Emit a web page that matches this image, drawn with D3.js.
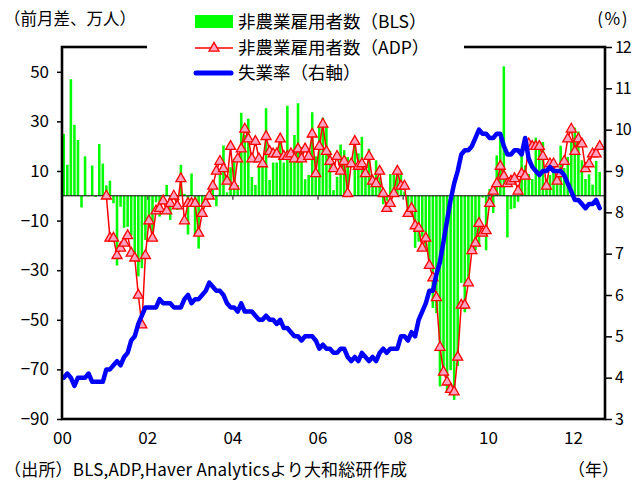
<!DOCTYPE html>
<html><head><meta charset="utf-8">
<script src="https://cdn.jsdelivr.net/npm/d3@7"></script>
<style>
body{margin:0;background:#fff}
svg{display:block}
text{font-family:"Noto Sans CJK JP","Noto Sans",sans-serif;fill:#000}
</style>
</head><body>
<svg id="chart" width="632" height="481"></svg>
<script>
// Monthly series, Jan 2000 – Aug 2012 (change from previous month, 10k persons)
const yearLabels = ["00","02","04","06","08","10","12"];
const leftTicks = [-90,-70,-50,-30,-10,10,30,50];
const rightTicks = [3,4,5,6,7,8,9,10,11,12];

const blsPayrolls = [
  24.9,12.5,47.0,28.6,22.5,-4.7,15.9,-0.2,12.2,-0.5,20.9,13.0,
  4.2,6.1,-3.0,-28.1,-4.4,-12.9,-12.5,-16.0,-24.4,-32.5,-29.2,-17.8,
  -13.2,-14.7,-2.6,-8.4,-1.0,4.4,-9.7,-1.1,-5.7,12.5,0.8,-15.6,
  9.0,-15.8,-21.3,-4.8,-0.7,-0.2,2.4,-4.2,10.3,20.3,1.4,11.5,
  15.0,4.3,33.5,24.6,31.1,7.6,4.4,12.3,15.7,35.3,6.4,13.4,
  13.4,23.9,13.4,36.3,17.5,24.5,37.3,19.6,6.7,8.4,33.7,15.9,
  27.7,31.5,28.0,18.2,2.3,7.7,20.7,18.4,15.7,0.2,21.0,17.1,
  23.8,9.3,19.0,8.0,14.3,7.5,-3.4,-2.0,8.8,8.4,11.4,9.8,
  1.7,-8.4,-7.8,-21.0,-18.5,-16.5,-20.9,-26.6,-45.2,-47.3,-76.9,-69.5,
  -79.1,-70.3,-82.3,-68.6,-35.1,-47.0,-32.9,-21.2,-21.9,-20.0,-0.7,-22.0,
  2.8,-6.9,16.3,24.3,52.2,-16.8,-5.4,-5.0,-2.4,17.1,12.3,8.8,
  6.8,23.5,19.4,21.7,5.4,8.4,9.6,8.5,20.2,11.2,15.7,22.3,
  27.5,25.9,14.3,6.8,8.7,4.5,14.1,9.6
];

// ADP series begins in Jan 2001 (month index 12)
const adpStartIndex = 12;
const adpPayrolls = [
  0,-17,-17,-24,-21,-19,-16,-23,-25,-40,-52,-24,
  -10,-17,-6,-5,-2,-6,-3,0,-4,7,-10,-3,
  -3,-3,-15,-7,-3,0,4,10,14,11,6,20,
  4,15,19,27,23,15,22,15,13,24,18,17,
  17,23,16,16,17,15,19,15,19,16,25,9,
  20,29,18,14,11,16,10,14,1,13,22,12,
  13,9,16,6,5,10,1,-5,-3,1,10,4,
  4,-7,-5,-12,-13,-21,-17,-28,-33,-41,-61,-71,
  -75,-78,-79,-65,-44,-44,-35,-22,-19,-11,-15,-14,
  -3,2,5,12,8,5,6,7,2,9,8,21,
  20,20,20,16,4,13,13,6,9,14,23,27,
  18,23,21,11,13,17,17,20
];

// Unemployment rate, %
const unemploymentRate = [
  4.0,4.1,4.0,3.8,4.0,4.0,4.0,4.1,3.9,3.9,3.9,3.9,
  4.2,4.2,4.3,4.4,4.3,4.5,4.6,4.9,5.0,5.3,5.5,5.7,
  5.7,5.7,5.7,5.9,5.8,5.8,5.8,5.7,5.7,5.7,5.9,6.0,
  5.8,5.9,5.9,6.0,6.1,6.3,6.2,6.1,6.1,6.0,5.8,5.7,
  5.7,5.6,5.8,5.6,5.6,5.6,5.5,5.4,5.4,5.5,5.4,5.4,
  5.3,5.4,5.2,5.2,5.1,5.0,5.0,4.9,5.0,5.0,5.0,4.9,
  4.7,4.8,4.7,4.7,4.6,4.6,4.7,4.7,4.5,4.4,4.5,4.4,
  4.6,4.5,4.4,4.5,4.4,4.6,4.7,4.6,4.7,4.7,4.7,5.0,
  5.0,4.9,5.1,5.0,5.4,5.6,5.8,6.1,6.1,6.5,6.8,7.3,
  7.8,8.3,8.7,9.0,9.4,9.5,9.5,9.6,9.8,10.0,9.9,9.9,
  9.8,9.8,9.9,9.9,9.6,9.4,9.4,9.5,9.5,9.4,9.8,9.3,
  9.1,9.0,8.9,9.0,9.0,9.1,9.0,9.0,9.0,8.9,8.7,8.5,
  8.3,8.3,8.2,8.1,8.2,8.2,8.3,8.1
];

const svg = d3.select("#chart");
const L = 62, R = 605, T = 47, B = 419;
const monthSlots = 153;

const x = d3.scaleLinear().domain([0, monthSlots]).range([L, R]);
const yL = d3.scaleLinear().domain([-90, 60]).range([B, T]);
const yR = d3.scaleLinear().domain([3, 12]).range([B, T]);
const slot = x(1) - x(0);
const barW = slot * 0.72;

// bars
svg.append("g").selectAll("rect").data(blsPayrolls).join("rect")
  .attr("x", (d, i) => x(i) + (slot - barW) / 2)
  .attr("width", barW)
  .attr("y", d => yL(Math.max(0, d)))
  .attr("height", d => Math.abs(yL(d) - yL(0)))
  .attr("fill", "#00ff00");

// zero line with year ticks
svg.append("line").attr("x1", L).attr("x2", R).attr("y1", yL(0)).attr("y2", yL(0))
  .attr("stroke", "#000").attr("stroke-width", 1);
const zeroAxis = svg.append("g").attr("transform", `translate(0,${yL(0)})`)
  .call(d3.axisBottom(x).tickValues(d3.range(24, 145, 24)).tickSize(4).tickFormat(""));
zeroAxis.select(".domain").remove();
zeroAxis.selectAll(".tick line").attr("stroke", "#555").attr("stroke-width", 1.5);

// ADP line and markers
const adpPts = adpPayrolls.map((v, k) => [x(adpStartIndex + k + 0.5), yL(v)]);
svg.append("path").datum(adpPts)
  .attr("d", d3.line())
  .attr("fill", "none").attr("stroke", "#ff0000").attr("stroke-width", 1.5);
const tri = "M0,-5.6L5,3.2L-5,3.2Z";
svg.append("g").selectAll("path").data(adpPts).join("path")
  .attr("transform", d => `translate(${d[0]},${d[1]})`)
  .attr("d", tri)
  .attr("fill", "#ffa3c0").attr("stroke", "#ff0000").attr("stroke-width", 1.3);

// unemployment rate line
svg.append("path").datum(unemploymentRate)
  .attr("d", d3.line().x((d, i) => x(i + 0.5)).y(d => yR(d)))
  .attr("fill", "none").attr("stroke", "#0000ff").attr("stroke-width", 4.5)
  .attr("stroke-linejoin", "round").attr("stroke-linecap", "round");

// axes
const fmt = d3.format("d");
const gl = svg.append("g").attr("transform", `translate(${L},0)`)
  .call(d3.axisLeft(yL).tickValues(leftTicks).tickSize(5).tickPadding(8).tickFormat(fmt));
const gr = svg.append("g").attr("transform", `translate(${R},0)`)
  .call(d3.axisRight(yR).tickValues(rightTicks).tickSize(7).tickPadding(3).tickFormat(fmt));
const gb = svg.append("g").attr("transform", `translate(0,${B})`)
  .call(d3.axisBottom(x).tickValues(d3.range(0, 145, 24)).tickSize(0).tickPadding(13)
    .tickFormat((d, i) => yearLabels[i]));
[gl, gr, gb].forEach(g => {
  g.select(".domain").remove();
  g.selectAll(".tick line").attr("stroke", "#000").attr("stroke-width", 1.5);
  g.selectAll(".tick text").style("font-size", "17px").attr("fill", "#000")
    .style("font-family", "'Noto Sans CJK JP',sans-serif");
});
gr.selectAll(".tick text").style("font-size", "16px").style("letter-spacing", "-1.2px");

// frame
svg.append("rect").attr("x", L).attr("y", T).attr("width", R - L).attr("height", B - T)
  .attr("fill", "none").attr("stroke", "#000").attr("stroke-width", 2.6);

// legend
const lg = svg.append("g");
lg.append("rect").attr("x", 147).attr("y", 0).attr("width", 317).attr("height", 88).attr("fill", "#fff");
lg.append("rect").attr("x", 195).attr("y", 15).attr("width", 38).attr("height", 13).attr("fill", "#00ff00");
lg.append("line").attr("x1", 195).attr("x2", 233).attr("y1", 48).attr("y2", 48)
  .attr("stroke", "#ff0000").attr("stroke-width", 1.5);
lg.append("path").attr("transform", "translate(214,48)").attr("d", tri)
  .attr("fill", "#ffa3c0").attr("stroke", "#ff0000").attr("stroke-width", 1.3);
lg.append("line").attr("x1", 196).attr("x2", 231).attr("y1", 73).attr("y2", 73)
  .attr("stroke", "#0000ff").attr("stroke-width", 5).attr("stroke-linecap", "round");
const legendText = ["非農業雇用者数（BLS）", "非農業雇用者数（ADP）", "失業率（右軸）"];
lg.selectAll("text.lt").data(legendText).join("text").attr("class", "lt")
  .attr("x", 238).attr("y", (d, i) => [22, 48, 73][i]).attr("dy", "0.35em")
  .style("font-size", "17.5px").text(d => d);

// annotations
svg.append("text").attr("x", 4).attr("y", 19).attr("dy", "0.35em").style("font-size", "16.5px").text("（前月差、万人）");
svg.append("text").attr("x", 629).attr("y", 19).attr("dy", "0.35em").attr("text-anchor", "end")
  .style("font-size", "17px").style("letter-spacing", "1.5px").text("(%)");
svg.append("text").attr("x", 4).attr("y", 470).attr("dy", "0.35em").style("font-size", "17px")
  .style("letter-spacing", "0.2px")
  .text("（出所）BLS,ADP,Haver Analyticsより大和総研作成");
svg.append("text").attr("x", 568).attr("y", 470).attr("dy", "0.35em").style("font-size", "17px").text("（年）");
</script>
</body></html>
